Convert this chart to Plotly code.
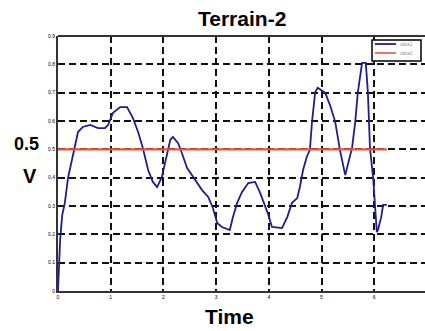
import plotly.graph_objects as go

# Data
time = [0.00, 0.02, 0.04, 0.08, 0.13, 0.19, 0.28, 0.32, 0.38, 0.47, 0.61, 0.76, 0.89, 0.95,
        1.04, 1.18, 1.31, 1.42, 1.52, 1.61, 1.71, 1.80, 1.88, 1.97, 2.07, 2.13, 2.18, 2.28,
        2.35, 2.45, 2.54, 2.64, 2.73, 2.85, 2.94, 3.02, 3.11, 3.26, 3.32, 3.40, 3.49, 3.61,
        3.74, 3.83, 3.93, 3.98, 4.06, 4.25, 4.35, 4.44, 4.54, 4.59, 4.65, 4.72, 4.78, 4.82,
        4.88, 4.93, 5.07, 5.16, 5.26, 5.35, 5.45, 5.50, 5.58, 5.64, 5.69, 5.77, 5.84, 5.88,
        5.92, 5.98, 6.02, 6.05, 6.07, 6.13, 6.17, 6.24]
voltage = [0.000, 0.074, 0.180, 0.268, 0.311, 0.399, 0.480, 0.505, 0.561, 0.579, 0.586, 0.575,
           0.575, 0.586, 0.628, 0.649, 0.649, 0.611, 0.561, 0.505, 0.427, 0.385, 0.367, 0.402,
           0.480, 0.533, 0.544, 0.522, 0.487, 0.434, 0.409, 0.381, 0.357, 0.332, 0.293, 0.240,
           0.226, 0.215, 0.261, 0.311, 0.349, 0.381, 0.385, 0.349, 0.304, 0.275, 0.226, 0.222,
           0.261, 0.311, 0.328, 0.367, 0.427, 0.473, 0.498, 0.597, 0.702, 0.717, 0.699, 0.657,
           0.597, 0.498, 0.409, 0.445, 0.505, 0.597, 0.702, 0.805, 0.805, 0.702, 0.505, 0.399,
           0.304, 0.208, 0.215, 0.258, 0.304, 0.304]
threshold_time = [0.0, 6.24]
threshold_value = [0.5, 0.5]

x_ticks = [0, 1, 2, 3, 4, 5, 6, 7]
x_tick_labels = ["0", "1", "2", "3", "4", "5", "6", "7"]
y_ticks = [0, 0.1, 0.2, 0.3, 0.4, 0.5, 0.6, 0.7, 0.8, 0.9]
y_tick_labels = ["0", "0.1", "0.2", "0.3", "0.4", "0.5", "0.6", "0.7", "0.8", "0.9"]
legend_names = ["data1", "data2"]

BLUE = "#1f1f8c"
RED = "#e0573f"
FONT = "Liberation Sans, Arial, sans-serif"

fig = go.Figure()
fig.add_trace(go.Scatter(x=time, y=voltage, mode="lines", name=legend_names[0],
                         line=dict(color=BLUE, width=1.8), showlegend=False))
fig.add_trace(go.Scatter(x=threshold_time, y=threshold_value, mode="lines", name=legend_names[1],
                         line=dict(color=RED, width=2.2), showlegend=False))

# plot area geometry: left 58px, top 36px, bottom 291px, right 425px
L, T, B, W, H = 58, 36, 291, 425, 331
pw, ph = W - L, B - T

def px(xp):
    return (xp - L) / pw

def py(yp):
    return (B - yp) / ph

fig.update_layout(
    width=W, height=H,
    margin=dict(l=L, r=0, t=T, b=H - B, pad=0),
    paper_bgcolor="white", plot_bgcolor="white",
    font=dict(family=FONT, color="black"),
    xaxis=dict(range=[0, pw / 52.7], tickvals=x_ticks, ticktext=x_tick_labels,
               tickfont=dict(size=5, color="black"), ticks="",
               showgrid=True, gridcolor="#111111", gridwidth=1.6, griddash="7px,4px",
               showline=True, linecolor="#333333", linewidth=2, zeroline=False,
               fixedrange=True),
    yaxis=dict(range=[0, 0.9], tickvals=y_ticks, ticktext=y_tick_labels,
               tickfont=dict(size=5, color="black"), ticks="",
               showgrid=True, gridcolor="#111111", gridwidth=1.6, griddash="7px,4px",
               showline=True, linecolor="#333333", linewidth=2, zeroline=False,
               fixedrange=True),
    showlegend=False,
)

shapes = [
    # top frame line
    dict(type="line", xref="paper", yref="paper", x0=0, x1=1, y0=1, y1=1,
         line=dict(color="#333333", width=2)),
    # legend box
    dict(type="rect", xref="paper", yref="paper", x0=px(372), x1=px(421), y0=py(61), y1=py(40),
         line=dict(color="black", width=1.5), fillcolor="white", layer="above"),
    dict(type="line", xref="paper", yref="paper", x0=px(375), x1=px(396), y0=py(44), y1=py(44),
         line=dict(color=BLUE, width=1.8), layer="above"),
    dict(type="line", xref="paper", yref="paper", x0=px(375), x1=px(396), y0=py(53), y1=py(53),
         line=dict(color=RED, width=1.6), layer="above"),
]
fig.update_layout(shapes=shapes)

ann = [
    dict(text="<b>Terrain-2</b>", xref="paper", yref="paper", x=px(242), y=py(18),
         xanchor="center", yanchor="middle", showarrow=False, font=dict(size=21, family=FONT)),
    dict(text="<b>Time</b>", xref="paper", yref="paper", x=px(229), y=py(316),
         xanchor="center", yanchor="middle", showarrow=False, font=dict(size=21, family=FONT)),
    dict(text="<b>0.5</b>", xref="paper", yref="paper", x=px(26), y=py(144),
         xanchor="center", yanchor="middle", showarrow=False, font=dict(size=18, family=FONT)),
    dict(text="<b>V</b>", xref="paper", yref="paper", x=px(30), y=py(176),
         xanchor="center", yanchor="middle", showarrow=False, font=dict(size=20, family=FONT)),
    dict(text=legend_names[0], xref="paper", yref="paper", x=px(398), y=py(44),
         xanchor="left", yanchor="middle", showarrow=False, font=dict(size=5, color="#999999")),
    dict(text=legend_names[1], xref="paper", yref="paper", x=px(398), y=py(53),
         xanchor="left", yanchor="middle", showarrow=False, font=dict(size=5, color="#999999")),
]
fig.update_layout(annotations=ann)

fig.write_html("out.html", config={"displayModeBar": False})
